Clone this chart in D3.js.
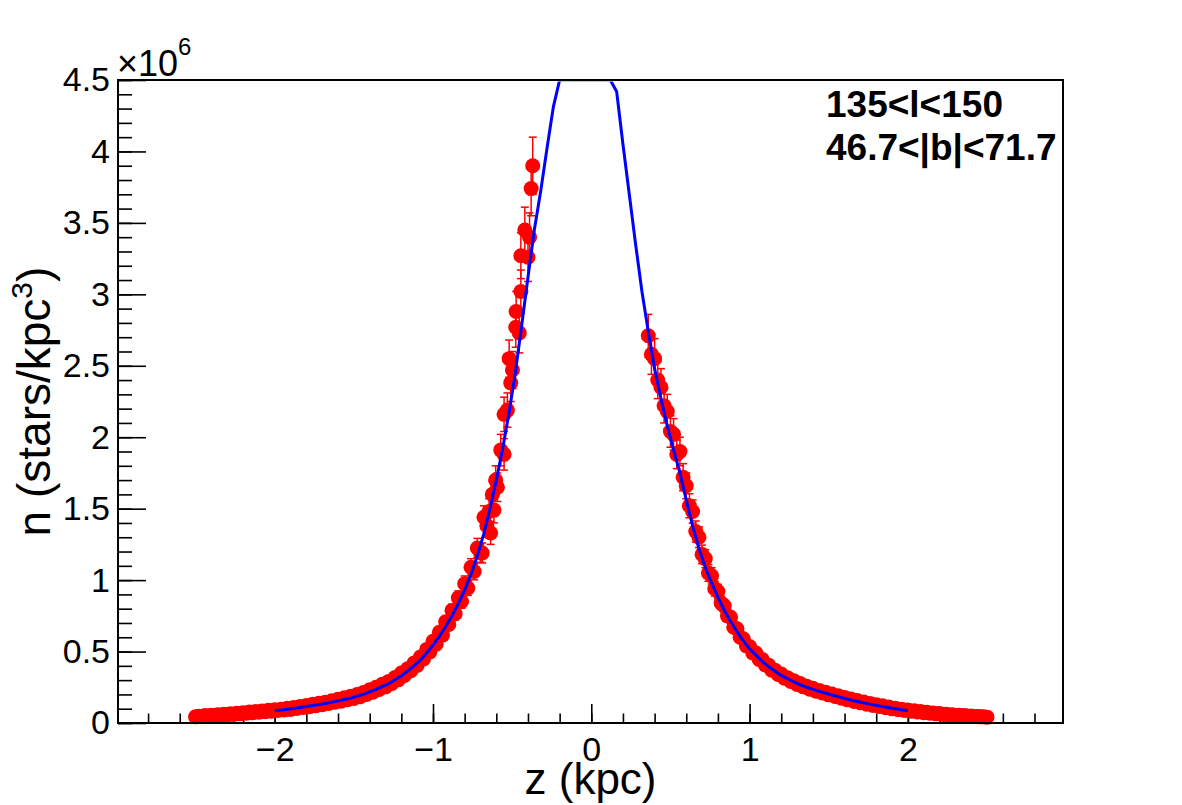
<!DOCTYPE html>
<html>
<head>
<meta charset="utf-8">
<script src="https://cdn.jsdelivr.net/npm/d3@7"></script>
<style>
  body { margin: 0; background: #fff; }
  svg text { font-family: "Liberation Sans", Arial, Helvetica, sans-serif; fill: #000; }
</style>
</head>
<body>
<div id="scatter"></div>
<script>
// ---- data (z in kpc, n in units of 1e6 stars/kpc^3) ----
var leftZ = [-2.50,-2.48,-2.46,-2.44,-2.42,-2.40,-2.38,-2.36,-2.34,-2.32,
  -2.30,-2.28,-2.26,-2.24,-2.22,-2.20,-2.18,-2.16,-2.14,-2.12,
  -2.10,-2.08,-2.06,-2.04,-2.02,-2.00,-1.98,-1.96,-1.94,-1.92,
  -1.90,-1.88,-1.86,-1.84,-1.82,-1.80,-1.78,-1.76,-1.74,-1.72,
  -1.70,-1.68,-1.66,-1.64,-1.62,-1.60,-1.58,-1.56,-1.54,-1.52,
  -1.50,-1.48,-1.46,-1.44,-1.42,-1.40,-1.38,-1.36,-1.34,-1.32,
  -1.30,-1.28,-1.26,-1.24,-1.22,-1.20,-1.18,-1.16,-1.14,-1.12,
  -1.10,-1.08,-1.06,-1.04,-1.02,-1.00,-0.98,-0.96,-0.94,-0.92,
  -0.90,-0.88,-0.86,-0.84,-0.82,-0.80,-0.78,-0.76,-0.74,-0.72,
  -0.70,-0.689,-0.678,-0.66,-0.646,-0.636,-0.625,-0.615,-0.604,-0.593,
  -0.572,-0.551,-0.551,-0.53,-0.519,-0.509,-0.498,-0.477,-0.475,-0.455,
  -0.445,-0.445,-0.42,-0.40,-0.39,-0.38,-0.37];
var leftN = [0.043,0.048,0.046,0.052,0.047,0.055,0.051,0.058,0.054,0.061,
  0.057,0.065,0.060,0.069,0.064,0.072,0.068,0.077,0.071,0.081,
  0.075,0.084,0.079,0.089,0.082,0.093,0.087,0.097,0.091,0.103,
  0.095,0.109,0.101,0.116,0.108,0.122,0.114,0.131,0.121,0.139,
  0.128,0.146,0.137,0.156,0.145,0.166,0.153,0.176,0.163,0.187,
  0.172,0.199,0.184,0.213,0.199,0.232,0.216,0.250,0.234,0.272,
  0.253,0.291,0.276,0.318,0.302,0.350,0.333,0.380,0.366,0.420,
  0.402,0.462,0.448,0.515,0.498,0.572,0.552,0.635,0.615,0.708,
  0.690,0.788,0.765,0.876,0.850,0.975,0.945,1.090,1.060,1.225,
  1.190,1.19,1.44,1.38,1.48,1.33,1.60,1.49,1.70,1.65,
  1.91,1.88,2.16,2.19,2.55,2.38,2.47,2.77,2.88,2.73,
  3.02,3.27,3.45,3.26,3.40,3.74,3.90];
var leftErr = [0.003,0.003,0.003,0.003,0.003,0.003,0.003,0.003,0.003,0.003,
  0.003,0.004,0.003,0.004,0.004,0.004,0.004,0.004,0.004,0.004,
  0.004,0.005,0.004,0.005,0.005,0.005,0.005,0.005,0.005,0.006,
  0.005,0.006,0.006,0.006,0.006,0.007,0.006,0.007,0.007,0.008,
  0.007,0.008,0.008,0.009,0.008,0.009,0.008,0.010,0.009,0.010,
  0.009,0.011,0.010,0.012,0.011,0.013,0.012,0.014,0.013,0.015,
  0.014,0.016,0.015,0.017,0.017,0.019,0.018,0.021,0.020,0.023,
  0.022,0.025,0.025,0.028,0.027,0.031,0.030,0.035,0.034,0.039,
  0.038,0.043,0.042,0.048,0.047,0.054,0.052,0.060,0.058,0.067,
  0.065,0.07,0.08,0.08,0.09,0.08,0.09,0.09,0.10,0.10,
  0.11,0.11,0.12,0.12,0.13,0.13,0.13,0.14,0.14,0.14,
  0.15,0.16,0.16,0.17,0.17,0.19,0.20];

var rightZ = [0.36,0.38,0.40,0.42,0.44,0.46,0.48,0.50,0.52,0.54,
  0.56,0.58,0.60,0.62,0.64,0.66,0.68,0.70,0.72,0.74,
  0.76,0.78,0.80,0.82,0.84,0.86,0.88,0.90,0.92,0.94,
  0.96,0.98,1.00,1.02,1.04,1.06,1.08,1.10,1.12,1.14,
  1.16,1.18,1.20,1.22,1.24,1.26,1.28,1.30,1.32,1.34,
  1.36,1.38,1.40,1.42,1.44,1.46,1.48,1.50,1.52,1.54,
  1.56,1.58,1.60,1.62,1.64,1.66,1.68,1.70,1.72,1.74,
  1.76,1.78,1.80,1.82,1.84,1.86,1.88,1.90,1.92,1.94,
  1.96,1.98,2.00,2.02,2.04,2.06,2.08,2.10,2.12,2.14,
  2.16,2.18,2.20,2.22,2.24,2.26,2.28,2.30,2.32,2.34,
  2.36,2.38,2.40,2.42,2.44,2.46,2.48,2.50];
var rightN = [2.71,2.58,2.55,2.40,2.35,2.22,2.18,2.04,2.02,1.88,
  1.90,1.72,1.66,1.52,1.48,1.34,1.30,1.18,1.15,1.05,
  1.03,0.94,0.92,0.84,0.82,0.75,0.74,0.67,0.66,0.60,
  0.59,0.54,0.535,0.49,0.49,0.445,0.445,0.405,0.405,0.37,
  0.37,0.34,0.343,0.313,0.316,0.29,0.295,0.27,0.276,0.253,
  0.258,0.236,0.243,0.222,0.228,0.21,0.215,0.197,0.203,0.185,
  0.19,0.173,0.179,0.162,0.168,0.151,0.157,0.142,0.147,0.132,
  0.137,0.123,0.128,0.115,0.12,0.107,0.112,0.099,0.104,0.093,
  0.097,0.087,0.091,0.082,0.085,0.077,0.08,0.072,0.075,0.068,
  0.07,0.064,0.066,0.060,0.062,0.056,0.058,0.053,0.055,0.050,
  0.052,0.047,0.049,0.045,0.046,0.043,0.044,0.041];
var rightErr = [0.15,0.14,0.14,0.13,0.13,0.12,0.12,0.11,0.11,0.10,
  0.10,0.095,0.09,0.084,0.081,0.074,0.072,0.065,0.063,0.058,
  0.057,0.052,0.051,0.046,0.045,0.041,0.041,0.037,0.036,0.033,
  0.032,0.030,0.029,0.027,0.027,0.024,0.024,0.022,0.022,0.020,
  0.020,0.019,0.019,0.017,0.017,0.016,0.016,0.015,0.015,0.014,
  0.014,0.013,0.013,0.012,0.013,0.012,0.012,0.011,0.011,0.010,
  0.010,0.010,0.010,0.009,0.009,0.008,0.009,0.008,0.008,0.007,
  0.008,0.007,0.007,0.006,0.007,0.006,0.006,0.005,0.006,0.005,
  0.005,0.005,0.005,0.005,0.005,0.004,0.004,0.004,0.004,0.004,
  0.004,0.004,0.004,0.003,0.003,0.003,0.003,0.003,0.003,0.003,
  0.003,0.003,0.003,0.003,0.003,0.003,0.003,0.003];

// fitted profile (blue curve)
var fitZ = [-2.00,-1.92,-1.84,-1.76,-1.68,-1.60,-1.52,-1.44,-1.36,-1.28,-1.20,-1.12,
  -1.08,-1.04,-1.00,-0.96,-0.92,-0.88,-0.84,-0.80,-0.76,-0.72,-0.68,-0.64,-0.60,-0.56,
  -0.52,-0.48,-0.44,-0.40,-0.36,-0.32,-0.28,-0.24,-0.20,-0.16,-0.12,-0.08,-0.04,
  0.00,0.04,0.08,0.12,0.16,0.20,0.24,0.28,0.32,0.36,0.40,0.44,0.48,0.52,0.56,0.60,
  0.64,0.68,0.72,0.76,0.80,0.84,0.88,0.92,0.96,1.00,1.04,1.08,1.12,
  1.20,1.28,1.36,1.44,1.52,1.60,1.68,1.76,1.84,1.92,2.00];
var fitN = [0.086,0.096,0.108,0.122,0.137,0.155,0.175,0.20,0.235,0.275,0.33,0.40,
  0.44,0.49,0.545,0.605,0.675,0.75,0.835,0.93,1.04,1.17,1.32,1.50,1.70,1.92,
  2.17,2.45,2.78,3.12,3.45,3.72,4.02,4.31,4.62,4.85,5.0,5.08,5.1,
  5.05,4.95,4.8,4.62,4.42,4.05,3.7,3.35,3.02,2.74,2.48,2.27,2.08,1.91,1.75,1.56,
  1.38,1.22,1.09,0.98,0.88,0.79,0.71,0.64,0.575,0.52,0.475,0.43,0.394,
  0.333,0.287,0.25,0.221,0.196,0.172,0.151,0.132,0.115,0.10,0.086];

var xRange = [-2.99, 2.98];
var yRange = [0, 4.5];
var xMajor = [-2, -1, 0, 1, 2];
var yMajor = [0, 0.5, 1, 1.5, 2, 2.5, 3, 3.5, 4, 4.5];
var regionLabels = ["135<l<150", "46.7<|b|<71.7"];

//Chart set up
var svgWidth = 1182;
var svgHeight = 805;
var margin = {top: 80, right: 119, bottom: 82, left: 118};
var width = svgWidth - margin.left - margin.right;
var height = svgHeight - margin.top - margin.bottom;

var svg = d3.select("#scatter")
    .append("svg")
    .attr("width", svgWidth)
    .attr("height", svgHeight);

var chartGroup = svg.append("g")
    .attr("transform", `translate(${margin.left},${margin.top})`);

var xScale = d3.scaleLinear().domain(xRange).range([0, width]);
var yScale = d3.scaleLinear().domain(yRange).range([height, 0]);

//axes: minor ticks then major ticks with labels, all pointing inwards
function styleAxis(g) {
    g.select(".domain").remove();
    g.selectAll(".tick line").attr("stroke", "#000").attr("stroke-width", 1.6);
    g.selectAll(".tick text").style("font-size", "34px").attr("fill", "#000");
}

chartGroup.append("g")
    .attr("transform", `translate(0,${height})`)
    .call(d3.axisBottom(xScale).tickValues(xScale.ticks(30)).tickSize(-9.5).tickFormat(""))
    .call(styleAxis);

chartGroup.append("g")
    .attr("transform", `translate(0,${height})`)
    .call(d3.axisBottom(xScale).tickValues(xMajor).tickSize(-19).tickPadding(14).tickFormat(d3.format("~g")))
    .call(styleAxis);

chartGroup.append("g")
    .call(d3.axisLeft(yScale).tickValues(yScale.ticks(45)).tickSize(-14).tickFormat(""))
    .call(styleAxis);

chartGroup.append("g")
    .call(d3.axisLeft(yScale).tickValues(yMajor).tickSize(-28).tickPadding(8).tickFormat(d3.format("~g")))
    .call(styleAxis);

//points with error bars
var points = leftZ.map((z, i) => ({z: z, n: leftN[i], e: leftErr[i]}))
    .concat(rightZ.map((z, i) => ({z: z, n: rightN[i], e: rightErr[i]})));

var errGroup = chartGroup.append("g")
    .attr("stroke", "#ff0000")
    .attr("stroke-width", 1.5);

errGroup.selectAll("line.bar")
    .data(points)
    .enter()
    .append("line")
    .attr("class", "bar")
    .attr("x1", d => xScale(d.z))
    .attr("x2", d => xScale(d.z))
    .attr("y1", d => yScale(d.n - d.e))
    .attr("y2", d => yScale(d.n + d.e));

errGroup.selectAll("line.capTop")
    .data(points)
    .enter()
    .append("line")
    .attr("class", "capTop")
    .attr("x1", d => xScale(d.z) - 4)
    .attr("x2", d => xScale(d.z) + 4)
    .attr("y1", d => yScale(d.n + d.e))
    .attr("y2", d => yScale(d.n + d.e));

errGroup.selectAll("line.capBottom")
    .data(points)
    .enter()
    .append("line")
    .attr("class", "capBottom")
    .attr("x1", d => xScale(d.z) - 4)
    .attr("x2", d => xScale(d.z) + 4)
    .attr("y1", d => yScale(d.n - d.e))
    .attr("y2", d => yScale(d.n - d.e));

chartGroup.append("g")
    .selectAll("circle")
    .data(points)
    .enter()
    .append("circle")
    .attr("cx", d => xScale(d.z))
    .attr("cy", d => yScale(d.n))
    .attr("r", 7.5)
    .attr("fill", "#ff0000");

//fit curve, clamped at the frame top like ROOT does
chartGroup.append("clipPath")
    .attr("id", "plotClip")
    .append("rect")
    .attr("x", 0)
    .attr("y", 1.5)
    .attr("width", width)
    .attr("height", height - 1.5);

var fitLine = d3.line()
    .x(d => xScale(d[0]))
    .y(d => yScale(Math.min(d[1], yRange[1])));

chartGroup.append("path")
    .datum(fitZ.map((z, i) => [z, fitN[i]]))
    .attr("clip-path", "url(#plotClip)")
    .attr("d", fitLine)
    .attr("fill", "none")
    .attr("stroke", "#0000ff")
    .attr("stroke-width", 3)
    .attr("stroke-linejoin", "round");

//frame
chartGroup.append("rect")
    .attr("width", width)
    .attr("height", height)
    .attr("fill", "none")
    .attr("stroke", "#000")
    .attr("stroke-width", 2);

//axis titles
svg.append("text")
    .attr("x", margin.left + width / 2)
    .attr("y", 794)
    .attr("text-anchor", "middle")
    .style("font-size", "44px")
    .text("z (kpc)");

var yTitle = svg.append("text")
    .attr("transform", `translate(50,${margin.top + height / 2}) rotate(-90)`)
    .attr("text-anchor", "middle")
    .style("font-size", "46px");
yTitle.append("tspan").text("n (stars/kpc");
yTitle.append("tspan").attr("dy", -18).style("font-size", "30px").text("3");
yTitle.append("tspan").attr("dy", 18).text(")");

//exponent label
var expo = svg.append("text")
    .attr("x", margin.left - 1)
    .attr("y", 76)
    .style("font-size", "36px")
    .text("\u00d710");
expo.append("tspan").attr("dy", -21).style("font-size", "24px").text("6");

//region label
svg.append("g")
    .selectAll("text")
    .data(regionLabels)
    .enter()
    .append("text")
    .attr("x", 826)
    .attr("y", (d, i) => 117 + i * 43)
    .style("font-size", "37px")
    .style("font-weight", "bold")
    .text(d => d);
</script>
</body>
</html>
